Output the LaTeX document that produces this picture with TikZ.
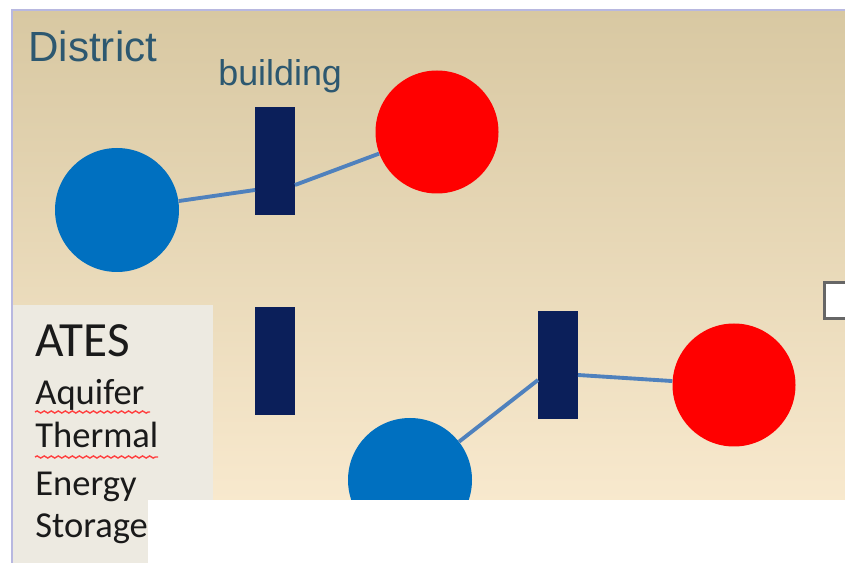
\documentclass[tikz,border=0pt]{standalone}
\usepackage{fontspec}
\setmainfont{Liberation Sans}
\newfontfamily\legendfont{Carlito}
\usetikzlibrary{decorations.pathmorphing}
\definecolor{panelTop}{HTML}{D8C8A2}
\definecolor{panelBot}{HTML}{FCEDD3}
\definecolor{legendBg}{HTML}{EDEAE1}
\definecolor{titleInk}{HTML}{2D5870}
\definecolor{wellBlue}{HTML}{0070C0}
\definecolor{loadRed}{HTML}{FF0000}
\definecolor{barNavy}{HTML}{0B1F5A}
\definecolor{pipeBlue}{HTML}{4F81BD}
\definecolor{legendInk}{HTML}{1A1A1A}
\newlength{\unitpx}
\setlength{\unitpx}{0.02cm}
\tikzset{
  coldwell/.style={circle, fill=wellBlue, minimum size=124\unitpx, inner sep=0pt},
  hotload/.style={circle, fill=loadRed, minimum size=123\unitpx, inner sep=0pt},
  bldg/.style={rectangle, fill=barNavy, minimum width=40\unitpx, minimum height=108\unitpx, inner sep=0pt},
  pipe/.style={draw=pipeBlue, line width=2.2pt},
  legendline/.style={anchor=base west, inner sep=0pt, text=legendInk, font=\legendfont\fontsize{20.8}{20.8}\selectfont},
  spell/.style={draw=red!75!white, line width=0.8pt, decorate, decoration={snake, amplitude=0.6pt, segment length=4pt}}
}
\begin{document}
\begin{tikzpicture}[x=0.02cm, y=-0.02cm]
  \useasboundingbox (0,0) rectangle (845,563);
  \fill[white] (0,0) rectangle (845,563);
  % panel with vertical gradient
  \shade[top color=panelTop, bottom color=panelBot] (12,10) rectangle (845,563);
  \draw[gray!60!blue!40, line width=1.2pt] (12,563) -- (12,10) -- (845,10);
  % legend panel
  \fill[legendBg] (13,305) rectangle (213,563);

  % titles
  \node[anchor=base west, inner sep=0pt, text=titleInk, font=\fontsize{24}{24}\selectfont] (district) at (28,62) {District};
  \node[anchor=base west, inner sep=0pt, text=titleInk, font=\fontsize{20.4}{20.4}\selectfont] (bldglabel) at (218,86) {building};

  % top loop
  \node[coldwell] (w1) at (117,210) {};
  \node[bldg] (b1) at (275,161) {};
  \node[hotload] (r1) at (437,132) {};
  \coordinate (b1l) at (255,190);
  \coordinate (b1r) at (295,185);
  \draw[pipe] (w1) -- (b1l);
  \draw[pipe] (b1r) -- (r1);

  % stand-alone building
  \node[bldg] (b2) at (275,361) {};

  % bottom loop
  \node[coldwell] (w2) at (410,480) {};
  \node[bldg] (b3) at (558,365) {};
  \node[hotload] (r2) at (734,385) {};
  \coordinate (b3l) at (538,380);
  \coordinate (b3r) at (578,375);
  \draw[pipe] (w2) -- (b3l);
  \draw[pipe] (b3r) -- (r2);

  % small box at right edge
  \node[draw=gray!80!black, line width=1.5pt, fill=white, minimum width=30\unitpx, minimum height=36\unitpx, inner sep=0pt, anchor=north west] (box) at (823,281) {};

  % legend text
  \node[legendline, font=\legendfont\fontsize{28}{28}\selectfont] (ates) at (35,357) {ATES};
  \node[legendline] (aq) at (35,405) {Aquifer};
  \node[legendline] (th) at (35,448) {Thermal};
  \node[legendline] (en) at (35,496) {Energy};
  \node[legendline] (st) at (35,538) {Storage};
  \draw[spell] (35,412) -- (150,412);
  \draw[spell] (35,457) -- (158,457);

  % blank strip along the bottom
  \fill[white] (148,500) rectangle (845,563);
\end{tikzpicture}
\end{document}
